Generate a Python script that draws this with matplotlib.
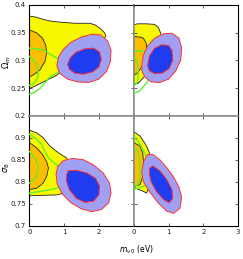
import matplotlib
matplotlib.use('Agg')
import matplotlib.pyplot as plt

# x limits (eV) and y limits for the two rows
xlim = (0, 3)
om_lim = (0.2, 0.4)
s8_lim = (0.7, 0.95)
om_ticks = [0.2, 0.25, 0.3, 0.35, 0.4]
om_ticklabels = ['0.2', '0.25', '0.3', '0.35', '0.4']
s8_ticks = [0.7, 0.75, 0.8, 0.85, 0.9]
s8_ticklabels = ['0.7', '0.75', '0.8', '0.85', '0.9']
x_ticks = [0, 1, 2, 3]

# contour outlines, (m_nu, param) pairs
# --- top left (Omega_m, left)
tl_yellow = [(0, 0.380), (0.2, 0.378), (0.4, 0.374), (0.6, 0.371), (0.88, 0.369), (1.3, 0.367),
             (1.74, 0.367), (1.89, 0.364), (2.03, 0.358), (2.16, 0.350), (2.20, 0.344), (2.10, 0.335),
             (1.5, 0.31), (1.0, 0.285), (0.79, 0.273), (0.40, 0.261), (0.15, 0.253), (0, 0.249)]
tl_orange = [(0, 0.355), (0.2, 0.350), (0.38, 0.340), (0.47, 0.328), (0.50, 0.313),
             (0.45, 0.298), (0.31, 0.283), (0.15, 0.275), (0, 0.270)]
tl_green_a = [(0, 0.322), (0.40, 0.319), (0.79, 0.304), (1.07, 0.292), (1.17, 0.284),
              (0.88, 0.280), (0.59, 0.270), (0.31, 0.249), (0.12, 0.241), (0, 0.239)]
tl_green_b = [(0, 0.307), (0.14, 0.300), (0.23, 0.290), (0.26, 0.273), (0.18, 0.262),
              (0.08, 0.256), (0, 0.255)]
tl_light = [(0.79, 0.290), (0.84, 0.306), (0.98, 0.320), (1.20, 0.333), (1.50, 0.342), (1.80, 0.347),
            (2.05, 0.346), (2.25, 0.335), (2.35, 0.318), (2.33, 0.298), (2.22, 0.280), (2.00, 0.266),
            (1.70, 0.260), (1.40, 0.261), (1.10, 0.266), (0.88, 0.276)]
tl_dark = [(1.10, 0.293), (1.18, 0.305), (1.35, 0.315), (1.60, 0.321), (1.85, 0.322), (2.02, 0.315),
           (2.07, 0.302), (2.00, 0.288), (1.82, 0.279), (1.55, 0.275), (1.30, 0.277), (1.15, 0.284)]

# --- top right (Omega_m, right)
tr_yellow = [(0, 0.364), (0.1, 0.366), (0.37, 0.366), (0.60, 0.365), (0.70, 0.360), (0.77, 0.350),
             (0.80, 0.343), (0.75, 0.330), (0.5, 0.30), (0.3, 0.27), (0.12, 0.258), (0, 0.258)]
tr_orange = [(0, 0.343), (0.18, 0.342), (0.28, 0.340), (0.36, 0.331), (0.38, 0.313),
             (0.30, 0.295), (0.20, 0.285), (0.09, 0.276), (0, 0.273)]
tr_green_a = [(0, 0.316), (0.2, 0.317), (0.37, 0.316), (0.46, 0.306), (0.48, 0.285),
              (0.40, 0.262), (0.25, 0.250), (0.12, 0.243), (0, 0.240)]
tr_green_b = [(0, 0.306), (0.08, 0.300), (0.13, 0.285), (0.12, 0.264), (0.06, 0.256), (0, 0.258)]
tr_light = [(0.23, 0.290), (0.27, 0.308), (0.40, 0.326), (0.60, 0.340), (0.85, 0.348), (1.10, 0.349),
            (1.30, 0.340), (1.38, 0.322), (1.35, 0.300), (1.20, 0.280), (1.00, 0.266), (0.75, 0.260),
            (0.50, 0.261), (0.32, 0.270), (0.24, 0.280)]
tr_dark = [(0.40, 0.290), (0.45, 0.308), (0.60, 0.322), (0.80, 0.328), (1.00, 0.327), (1.10, 0.318),
           (1.12, 0.300), (1.02, 0.285), (0.82, 0.277), (0.60, 0.276), (0.45, 0.281)]

# --- bottom left (sigma_8, left)
bl_yellow = [(0, 0.917), (0.21, 0.911), (0.40, 0.900), (0.59, 0.881), (0.83, 0.866), (1.07, 0.854),
             (1.2, 0.83), (1.1, 0.79), (0.98, 0.774), (0.79, 0.770), (0.40, 0.769), (0, 0.768)]
bl_orange = [(0, 0.889), (0.21, 0.877), (0.38, 0.862), (0.50, 0.845), (0.55, 0.831), (0.50, 0.812),
             (0.40, 0.797), (0.21, 0.785), (0, 0.782)]
bl_green_a = [(0, 0.908), (0.21, 0.896), (0.35, 0.885), (0.45, 0.868), (0.55, 0.854), (0.83, 0.835),
              (1.07, 0.824), (1.12, 0.812), (1.07, 0.797), (0.79, 0.785), (0.31, 0.778), (0, 0.774)]
bl_green_b = [(0, 0.869), (0.16, 0.854), (0.24, 0.840), (0.26, 0.825), (0.18, 0.808), (0, 0.797)]
bl_light = [(0.77, 0.818), (0.82, 0.835), (0.98, 0.848), (1.25, 0.853), (1.55, 0.850), (1.85, 0.838),
            (2.12, 0.820), (2.30, 0.798), (2.35, 0.775), (2.28, 0.752), (2.08, 0.737), (1.80, 0.732),
            (1.50, 0.738), (1.20, 0.752), (0.95, 0.772), (0.80, 0.795)]
bl_dark = [(1.07, 0.815), (1.12, 0.825), (1.35, 0.826), (1.65, 0.820), (1.90, 0.808), (2.02, 0.790),
           (2.00, 0.770), (1.85, 0.756), (1.60, 0.753), (1.35, 0.762), (1.15, 0.782), (1.07, 0.800)]

# --- bottom right (sigma_8, right)
br_yellow = [(0, 0.914), (0.18, 0.904), (0.30, 0.890), (0.37, 0.881), (0.47, 0.862), (0.5, 0.83),
             (0.45, 0.79), (0.37, 0.774), (0.28, 0.778), (0, 0.787)]
br_orange = [(0, 0.889), (0.18, 0.881), (0.26, 0.865), (0.28, 0.845), (0.28, 0.816),
             (0.18, 0.793), (0, 0.789)]
br_green_a = [(0, 0.904), (0.18, 0.885), (0.33, 0.862), (0.42, 0.847), (0.49, 0.831),
              (0.48, 0.810), (0.42, 0.796), (0.30, 0.790), (0, 0.782)]
br_green_b = [(0, 0.878), (0.10, 0.872), (0.18, 0.845), (0.18, 0.810), (0.10, 0.792), (0, 0.790)]
br_light = [(0.23, 0.820), (0.28, 0.845), (0.40, 0.862), (0.55, 0.862), (0.75, 0.850), (0.95, 0.832),
            (1.15, 0.810), (1.30, 0.788), (1.38, 0.765), (1.33, 0.740), (1.15, 0.728), (0.95, 0.733),
            (0.70, 0.752), (0.45, 0.778), (0.28, 0.800)]
br_dark = [(0.45, 0.830), (0.55, 0.836), (0.75, 0.825), (0.95, 0.805), (1.10, 0.782), (1.12, 0.762),
           (1.02, 0.752), (0.85, 0.760), (0.65, 0.778), (0.50, 0.800), (0.45, 0.818)]

panels = {
    'tl': (tl_yellow, tl_orange, [tl_green_a, tl_green_b], tl_light, tl_dark),
    'tr': (tr_yellow, tr_orange, [tr_green_a, tr_green_b], tr_light, tr_dark),
    'bl': (bl_yellow, bl_orange, [bl_green_a, bl_green_b], bl_light, bl_dark),
    'br': (br_yellow, br_orange, [br_green_a, br_green_b], br_light, br_dark),
}

YELLOW = '#f7f700'
ORANGE = '#fcbf00'
GREEN = '#5cf030'
LIGHT = '#a0a0f2'
DARK = '#1f3cf0'
RED = '#ff3030'

plt.rcParams['font.family'] = 'DejaVu Sans'
fig = plt.figure(figsize=(2.43, 2.59), dpi=100)

L, W = 29.3 / 243, 104.4 / 243
rows = {'t': (1 - 115.7 / 259, 110.7 / 259), 'b': (1 - 225.7 / 259, 110.0 / 259)}


def unzip(pts):
    return [p[0] for p in pts], [p[1] for p in pts]


axes = {}
for key in ['tl', 'tr', 'bl', 'br']:
    bottom, height = rows[key[0]]
    left = L if key[1] == 'l' else L + W
    ax = fig.add_axes([left, bottom, W, height])
    axes[key] = ax
    yellow, orange, greens, light, dark = panels[key]

    ax.fill(*unzip(yellow), facecolor=YELLOW, edgecolor='#222222', lw=0.6, zorder=1)
    ax.fill(*unzip(orange), facecolor=ORANGE, edgecolor='#222222', lw=0.6, zorder=2)
    for g in greens:
        ax.plot(*unzip(g), color=GREEN, lw=1.0, zorder=3)
    ax.fill(*unzip(light), facecolor=LIGHT, edgecolor=RED, lw=0.7, zorder=4)
    ax.fill(*unzip(dark), facecolor=DARK, edgecolor=RED, lw=0.7, zorder=5)

    ax.set_xlim(*xlim)
    ax.set_xticks(x_ticks)
    if key[0] == 't':
        ax.set_ylim(*om_lim)
        ax.set_yticks(om_ticks)
        ax.set_xticklabels([])
    else:
        ax.set_ylim(*s8_lim)
        ax.set_yticks(s8_ticks)
        if key[1] == 'l':
            ax.set_xticklabels(['0', '1', '2', ''])
        else:
            ax.set_xticklabels(['0', '1', '2', '3'])
    if key[1] == 'l':
        if key[0] == 't':
            ax.set_yticklabels(om_ticklabels)
        else:
            ax.set_yticklabels(s8_ticklabels)
    else:
        ax.set_yticklabels([])

    ax.tick_params(direction='in', top=True, right=True, length=2.5, width=0.5,
                   labelsize=5, pad=2.5, colors='#222222')
    for side, sp in ax.spines.items():
        sp.set_linewidth(0.8)
        sp.set_color('black')
    # shared inner edges look gray and a bit heavier in the reference
    inner = []
    inner.append('right' if key[1] == 'l' else 'left')
    inner.append('bottom' if key[0] == 't' else 'top')
    for side in inner:
        ax.spines[side].set_color('#8a8a8a')
        ax.spines[side].set_linewidth(1.1)

fig.text(7 / 243, 1 - 62 / 259, r'$\Omega_m$', fontsize=6, rotation=90,
         ha='center', va='center')
fig.text(7 / 243, 1 - 168 / 259, r'$\sigma_8$', fontsize=6, rotation=90,
         ha='center', va='center')
fig.text(136 / 243, 1 - 250 / 259, r'$m_{\nu\,0}$ (eV)', fontsize=5.5, ha='center', va='center')

fig.savefig('out.png', dpi=100)
